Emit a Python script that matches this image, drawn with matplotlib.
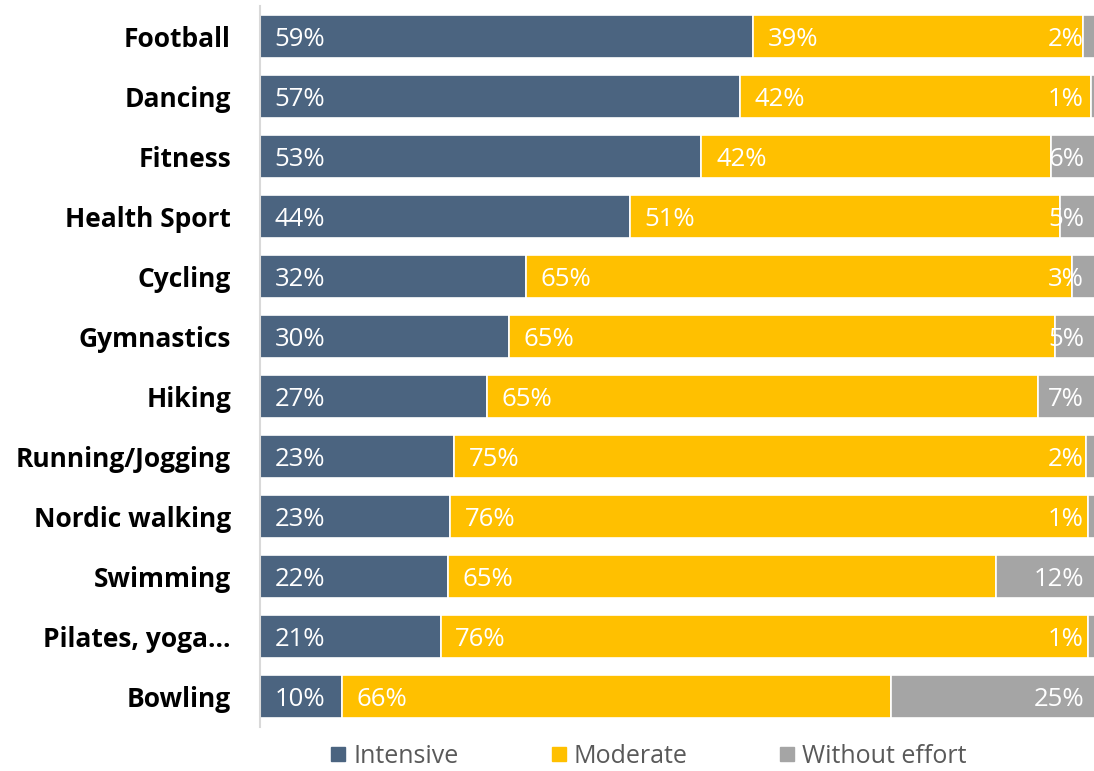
import matplotlib.pyplot as plt
import numpy as np
from matplotlib.lines import Line2D

plt.rcParams['font.family'] = ['Open Sans', 'DejaVu Sans']

sports = ['Football', 'Dancing', 'Fitness', 'Health Sport', 'Cycling', 'Gymnastics',
          'Hiking', 'Running/Jogging', 'Nordic walking', 'Swimming', 'Pilates, yoga...',
          'Bowling']
# estimated unrounded shares (labels show them rounded)
intensive = [58.7, 57.1, 52.6, 44.0, 31.7, 29.6, 26.9, 23.1, 22.6, 22.3, 21.3, 9.8]
moderate = [39.3, 41.8, 41.6, 51.2, 65.0, 65.0, 65.4, 75.2, 75.9, 65.2, 76.4, 65.6]
no_effort = [2.0, 1.1, 5.9, 4.8, 3.3, 5.4, 7.4, 1.7, 1.4, 12.4, 1.4, 25.0]

series_names = ['Intensive', 'Moderate', 'Without effort']
colors = ['#4B6480', '#FFC000', '#A5A5A5']

vals = np.array([intensive, moderate, no_effort], dtype=float)
shares = vals / vals.sum(axis=0)  # 100% stacked

fig = plt.figure(figsize=(10.94, 7.71), dpi=100)
# right edge of the plot area sits just past the picture edge, as in the original crop
ax = fig.add_axes([0.2377, 0.0577, 0.7678, 0.934])

y = np.arange(len(sports))
left = np.zeros(len(sports))
for i in range(3):
    ax.barh(y, shares[i], left=left, height=0.72, color=colors[i],
            edgecolor='white', linewidth=1.2)
    for j in range(len(sports)):
        txt = '%d%%' % round(vals[i, j])
        if i < 2:
            ax.annotate(txt, (left[j], y[j]), xytext=(10.5, 0), textcoords='offset points',
                        ha='left', va='center_baseline', color='white', fontsize=18.5)
        else:
            ax.annotate(txt, (1.0, y[j]), xytext=(-11.5, 0), textcoords='offset points',
                        ha='right', va='center_baseline', color='white', fontsize=18.5)
    left = left + shares[i]

ax.set_xlim(0, 1)
ax.set_ylim(len(sports) - 0.5, -0.5)
ax.set_yticks(y)
ax.set_yticklabels(sports, fontsize=19, fontweight='bold', color='black')
ax.tick_params(axis='y', length=0, pad=21)
ax.set_xticks([])
for s in ['top', 'right', 'bottom']:
    ax.spines[s].set_visible(False)
ax.spines['left'].set_color('#D9D9D9')
ax.spines['left'].set_linewidth(1.5)

handles = [Line2D([], [], marker='s', linestyle='none', markersize=10,
                  markerfacecolor=c, markeredgecolor=c) for c in colors]
fig.legend(handles, series_names, loc='center', bbox_to_anchor=(0.592, 0.019),
           ncol=3, frameon=False, fontsize=18, labelcolor='#595959',
           handlelength=0.8, handletextpad=0.2, columnspacing=3.6, borderaxespad=0,
           borderpad=0)

fig.savefig('out.png', dpi=100)
